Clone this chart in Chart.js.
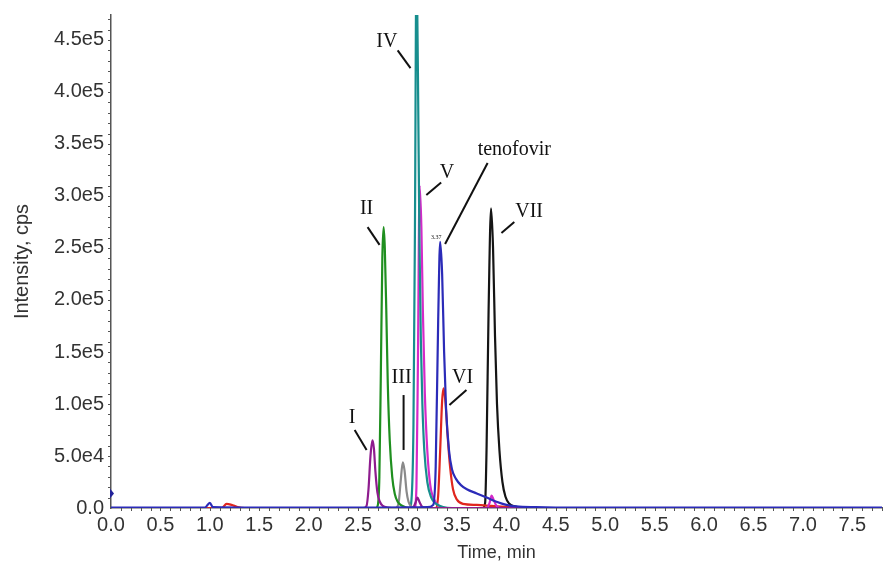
<!DOCTYPE html>
<html>
<head>
<meta charset="utf-8">
<script src="https://cdn.jsdelivr.net/npm/chart.js@4.4.1/dist/chart.umd.min.js"></script>
<style>
  html, body { margin: 0; padding: 0; background: #fff; }
  #wrap { width: 883px; height: 564px; }
</style>
</head>
<body>
<div id="wrap"><canvas id="chart"></canvas></div>
<script>
// tick values
const xTicks = [0, 0.5, 1.0, 1.5, 2.0, 2.5, 3.0, 3.5, 4.0, 4.5, 5.0, 5.5, 6.0, 6.5, 7.0, 7.5];
const yTicks = [0, 50000, 100000, 150000, 200000, 250000, 300000, 350000, 400000, 450000];

// tenofovir (blue), runs over whole time range
const tenoT = [0, 0.5, 0.95, 1.0, 1.03, 1.5, 2.0, 2.5, 3.0, 3.2, 3.26, 3.285, 3.31, 3.33, 3.35, 3.37, 3.39, 3.42, 3.45, 3.49, 3.54, 3.6, 3.7, 3.8, 3.9, 4.0, 4.1, 4.3, 4.5, 5.0, 5.5, 6.0, 6.5, 7.0, 7.5, 7.8];
const tenoY = [500, 300, 500, 5000, 800, 400, 500, 400, 600, 800, 3000, 40000, 180000, 256000, 225000, 150000, 95000, 55000, 37000, 28000, 22000, 18000, 14000, 10000, 6000, 3000, 1500, 800, 500, 400, 500, 400, 500, 400, 500, 400];

// I (purple) incl. small bump near 3.1
const peak1T = [2.0, 2.55, 2.585, 2.605, 2.625, 2.645, 2.66, 2.675, 2.695, 2.72, 2.75, 2.80, 2.90, 3.05, 3.08, 3.10, 3.12, 3.15, 3.2, 4.5];
const peak1Y = [0, 0, 2000, 18000, 50000, 65000, 57000, 35000, 15000, 6000, 2000, 500, 0, 0, 5000, 10000, 6000, 1000, 0, 0];

// II (green)
const peak2T = [2.0, 2.68, 2.70, 2.715, 2.73, 2.745, 2.758, 2.77, 2.785, 2.80, 2.82, 2.845, 2.87, 2.90, 2.95, 3.02, 4.5];
const peak2Y = [0, 0, 3000, 30000, 130000, 240000, 270000, 250000, 190000, 120000, 65000, 30000, 14000, 6000, 2000, 0, 0];

// III (grey)
const peak3T = [2.0, 2.88, 2.91, 2.93, 2.952, 2.97, 2.99, 3.01, 3.04, 3.08, 4.5];
const peak3Y = [0, 0, 5000, 25000, 44000, 36000, 16000, 6000, 1500, 0, 0];

// IV (teal), goes off scale
const peak4T = [2.0, 3.02, 3.04, 3.06, 3.075, 3.09, 3.105, 3.12, 3.135, 3.15, 3.17, 3.20, 3.24, 3.29, 3.36, 3.45, 4.5];
const peak4Y = [0, 0, 8000, 80000, 270000, 520000, 420000, 260000, 160000, 100000, 55000, 25000, 10000, 4000, 1000, 0, 0];

// V (magenta) incl. small bump near 3.85
const peak5T = [2.0, 3.07, 3.09, 3.105, 3.122, 3.14, 3.155, 3.175, 3.20, 3.23, 3.27, 3.32, 3.38, 3.80, 3.83, 3.85, 3.87, 3.90, 3.95, 4.5];
const peak5Y = [0, 0, 20000, 140000, 310000, 270000, 190000, 110000, 55000, 22000, 8000, 2000, 0, 0, 5000, 12000, 8000, 2000, 0, 0];

// VI (red) incl. bump near 1.2
const peak6T = [0, 1.12, 1.17, 1.22, 1.28, 1.35, 3.29, 3.31, 3.33, 3.35, 3.365, 3.385, 3.405, 3.43, 3.46, 3.50, 3.56, 3.7, 3.85, 4.0, 4.2, 4.5];
const peak6Y = [0, 0, 4000, 3000, 1000, 0, 0, 12000, 55000, 103000, 115000, 100000, 70000, 40000, 18000, 8000, 4000, 3000, 2000, 1000, 0, 0];

// VII (black)
const peak7T = [2.0, 3.76, 3.785, 3.80, 3.82, 3.845, 3.865, 3.885, 3.905, 3.93, 3.96, 3.99, 4.03, 4.09, 4.16, 4.5];
const peak7Y = [0, 0, 5000, 60000, 190000, 288000, 250000, 165000, 100000, 55000, 25000, 11000, 4000, 1500, 0, 0];

// peak labels with leader lines (data units)
const peakLabels = [
  { text: 'I', at: [2.44, 86500], line: [[2.465, 75000], [2.586, 55800]] },
  { text: 'II', at: [2.586, 288000], line: [[2.596, 270000], [2.717, 253000]] },
  { text: 'III', at: [2.94, 125000], line: [[2.96, 108600], [2.96, 55800]] },
  { text: 'IV', at: [2.79, 448000], line: [[2.90, 440000], [3.03, 423000]] },
  { text: 'V', at: [3.40, 322000], line: [[3.34, 313000], [3.19, 301000]] },
  { text: 'tenofovir', at: [4.08, 344000], line: [[3.81, 331700], [3.38, 253800]] },
  { text: 'VI', at: [3.556, 125000], line: [[3.596, 113500], [3.424, 99000]] },
  { text: 'VII', at: [4.23, 284600], line: [[4.08, 275000], [3.95, 264400]] }
];

function pts(ts, ys) {
  return ts.map((t, i) => ({ x: t, y: ys[i] }));
}

function trace(label, ts, ys, color) {
  return {
    label: label,
    data: pts(ts, ys),
    borderColor: color,
    borderWidth: 2.2,
    pointRadius: 0,
    cubicInterpolationMode: 'monotone',
    fill: false
  };
}

const labelPlugin = {
  id: 'peakLabels',
  afterDatasetsDraw(chart) {
    const ctx = chart.ctx;
    const xs = chart.scales.x;
    const ys = chart.scales.y;
    ctx.save();
    ctx.strokeStyle = '#111';
    ctx.lineWidth = 2;
    ctx.fillStyle = '#111';
    ctx.font = '20px "Liberation Serif", "DejaVu Serif", serif';
    ctx.textAlign = 'center';
    ctx.textBaseline = 'middle';
    peakLabels.forEach(l => {
      ctx.beginPath();
      ctx.moveTo(xs.getPixelForValue(l.line[0][0]), ys.getPixelForValue(l.line[0][1]));
      ctx.lineTo(xs.getPixelForValue(l.line[1][0]), ys.getPixelForValue(l.line[1][1]));
      ctx.stroke();
      ctx.fillText(l.text, xs.getPixelForValue(l.at[0]), ys.getPixelForValue(l.at[1]));
    });
    // retention time tag on tenofovir peak
    ctx.font = '6px "Liberation Serif", serif';
    ctx.fillText('3.37', xs.getPixelForValue(3.29), ys.getPixelForValue(260000));
    ctx.restore();
  }
};

const minorTicks = {
  id: 'minorTicks',
  afterDraw(chart) {
    const ctx = chart.ctx;
    const xs = chart.scales.x;
    const ys = chart.scales.y;
    const area = chart.chartArea;
    ctx.save();
    ctx.strokeStyle = '#555';
    ctx.lineWidth = 1;
    ctx.beginPath();
    for (let i = 1; i <= 78; i++) {
      const px = Math.round(xs.getPixelForValue(i / 10)) + 0.5;
      ctx.moveTo(px, area.bottom);
      ctx.lineTo(px, area.bottom + 3);
    }
    for (let i = 1; i <= 47; i++) {
      const py = Math.round(ys.getPixelForValue(i * 10000)) + 0.5;
      ctx.moveTo(area.left, py);
      ctx.lineTo(area.left - 3, py);
    }
    ctx.stroke();
    // injection marker at the left edge
    ctx.fillStyle = '#22229a';
    const y0 = ys.getPixelForValue(14000);
    ctx.beginPath();
    ctx.moveTo(area.left - 1, y0 - 5);
    ctx.lineTo(area.left + 3, y0);
    ctx.lineTo(area.left - 1, y0 + 5);
    ctx.closePath();
    ctx.fill();
    ctx.restore();
  }
};

const tickFont = { family: '"Liberation Sans", Arial, sans-serif', size: 20 };

new Chart(document.getElementById('chart'), {
  type: 'line',
  data: {
    datasets: [
      trace('tenofovir', tenoT, tenoY, '#2b2bb8'),
      trace('I', peak1T, peak1Y, '#8e1c8e'),
      trace('II', peak2T, peak2Y, '#1f8f1f'),
      trace('III', peak3T, peak3Y, '#8a8a8a'),
      trace('IV', peak4T, peak4Y, '#178e8e'),
      trace('V', peak5T, peak5Y, '#d42ac8'),
      trace('VI', peak6T, peak6Y, '#e0261e'),
      trace('VII', peak7T, peak7Y, '#151515')
    ]
  },
  options: {
    responsive: true,
    maintainAspectRatio: false,
    animation: false,
    layout: { padding: { top: 15, right: 1, left: 10, bottom: 0 } },
    plugins: {
      legend: { display: false },
      tooltip: { enabled: false }
    },
    scales: {
      x: {
        type: 'linear',
        min: 0,
        max: 7.8,
        afterBuildTicks: scale => { scale.ticks = xTicks.map(v => ({ value: v })); },
        afterFit: scale => { scale.height = 56; },
        grid: { display: false, drawTicks: true, tickLength: 5, tickColor: '#555' },
        border: { color: '#555', width: 1.5 },
        ticks: {
          color: '#333',
          font: tickFont,
          padding: 0,
          maxRotation: 0,
          callback: v => v.toFixed(1)
        },
        title: {
          display: true,
          text: 'Time, min',
          color: '#333',
          font: { family: '"Liberation Sans", Arial, sans-serif', size: 18 },
          padding: { top: 0, bottom: 0 }
        }
      },
      y: {
        min: 0,
        max: 474000,
        afterBuildTicks: scale => { scale.ticks = yTicks.map(v => ({ value: v })); },
        afterFit: scale => { scale.width = 101; },
        grid: { display: false, drawTicks: true, tickLength: 5, tickColor: '#555' },
        border: { color: '#555', width: 1.5 },
        ticks: {
          color: '#333',
          font: tickFont,
          padding: 2,
          callback: v => v === 0 ? '0.0' : v.toExponential(1).replace('e+', 'e')
        },
        title: {
          display: true,
          text: 'Intensity, cps',
          color: '#333',
          font: { family: '"Liberation Sans", Arial, sans-serif', size: 20 },
          padding: { top: 0, bottom: 4 }
        }
      }
    }
  },
  plugins: [labelPlugin, minorTicks]
});
</script>
</body>
</html>
